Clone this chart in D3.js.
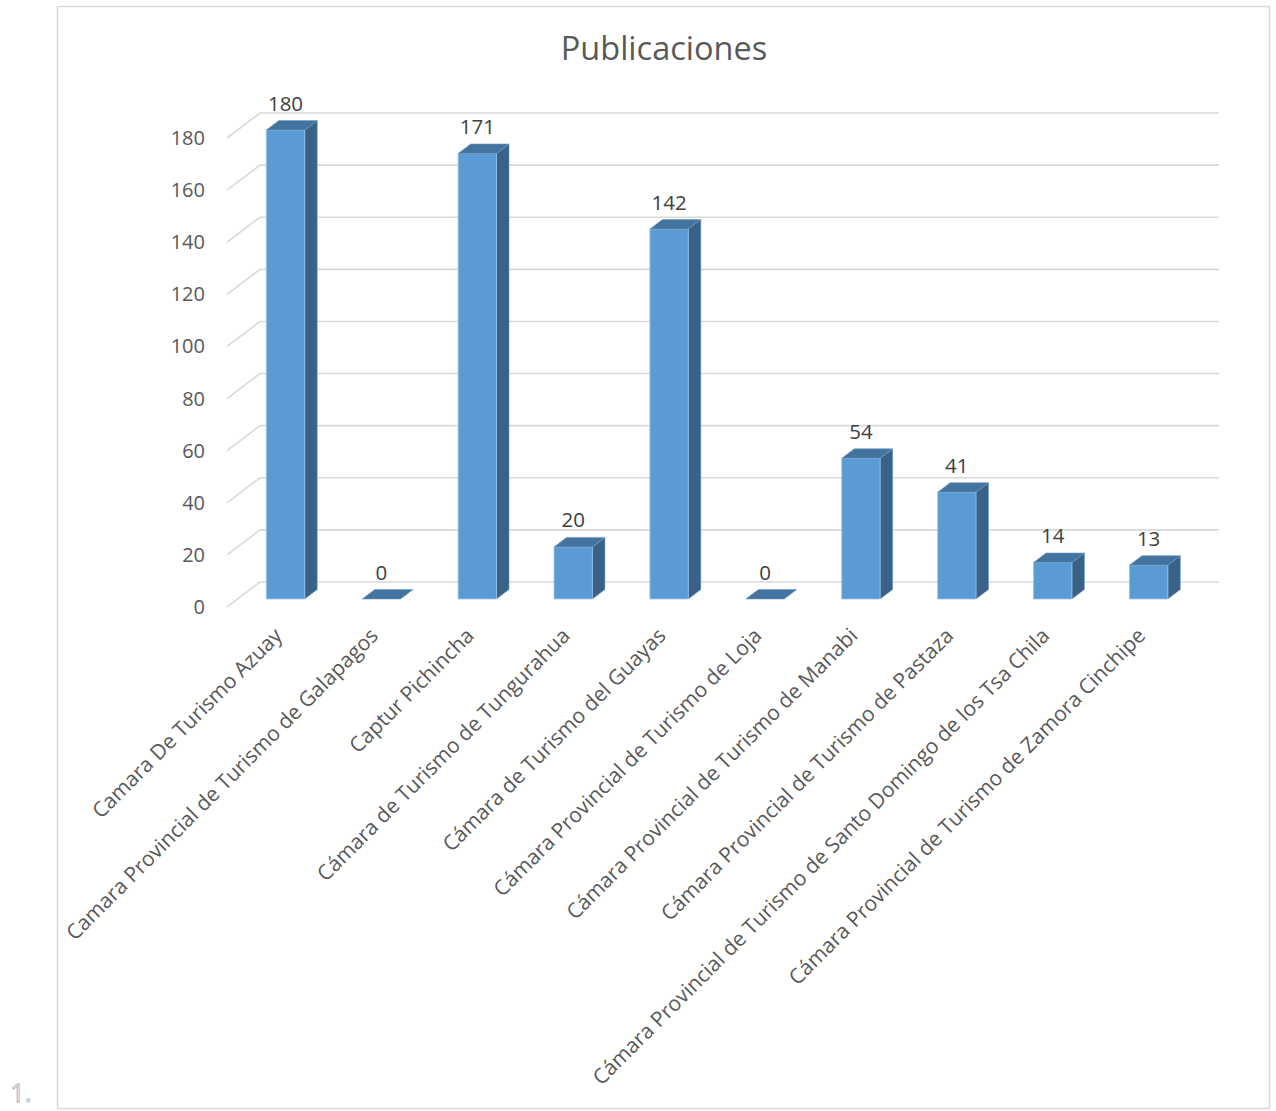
<!DOCTYPE html>
<html>
<head>
<meta charset="utf-8">
<title>Publicaciones</title>
<script src="https://cdn.jsdelivr.net/npm/d3@7/dist/d3.min.js"></script>
<style>
  body { margin: 0; background: #fff; }
  svg text { font-family: "Open Sans", "Liberation Sans", sans-serif; }
</style>
</head>
<body>
<div class="chart"></div>
<script>
// data
var categories = [
  "Camara De Turismo Azuay",
  "Camara Provincial de Turismo de Galapagos",
  "Captur Pichincha",
  "Cámara de Turismo de Tungurahua",
  "Cámara de Turismo del Guayas",
  "Cámara Provincial de Turismo de Loja",
  "Cámara Provincial de Turismo de Manabi",
  "Cámara Provincial de Turismo de Pastaza",
  "Cámara Provincial de Turismo de Santo Domingo de los Tsa Chila",
  "Cámara Provincial de Turismo de Zamora Cinchipe"
];
var publicaciones = [180, 0, 171, 20, 142, 0, 54, 41, 14, 13];
var yTicks = [0, 20, 40, 60, 80, 100, 120, 140, 160, 180];
var title = "Publicaciones";

var width = 1276, height = 1111;

// depth of the 3d box: back wall -> front edge of floor
var depthX = -33, depthY = 25;
var barFront = 0.68, barBack = 0.30;   // fraction of depth

var svg = d3.select(".chart").append("svg")
  .attr("width", width).attr("height", height);

// frame
svg.append("rect")
  .attr("x", 57.5).attr("y", 6.5)
  .attr("width", 1212).attr("height", 1102)
  .attr("fill", "#fff").attr("stroke", "#d9d9d9").attr("stroke-width", 1.5);

svg.append("text")
  .attr("x", 664).attr("y", 60)
  .attr("text-anchor", "middle")
  .attr("font-size", 32.5)
  .attr("fill", "#595959")
  .text(title);

var x = d3.scaleBand().domain(categories).range([260, 1219]).padding(0);
var y = d3.scaleLinear().domain([0, 180]).range([582, 113]);

// back wall gridlines + side wall diagonals
var grid = svg.append("g");
yTicks.forEach(function(t) {
  grid.append("line")
    .attr("x1", 260).attr("x2", 1219)
    .attr("y1", y(t)).attr("y2", y(t))
    .attr("stroke", "#d9d9d9").attr("stroke-width", 1.6);
  grid.append("line")
    .attr("x1", 260 + depthX).attr("y1", y(t) + depthY)
    .attr("x2", 260).attr("y2", y(t))
    .attr("stroke", "#d9d9d9").attr("stroke-width", 1.6);
});

// y axis labels (front edge)
svg.append("g").selectAll("text")
  .data(yTicks).enter().append("text")
  .attr("x", 205)
  .attr("y", function(d) { return y(d) + depthY; })
  .attr("dy", "0.35em")
  .attr("text-anchor", "end")
  .attr("font-size", 20)
  .attr("fill", "#595959")
  .text(function(d) { return d; });

// bars
var bw = x.bandwidth() * 0.4;
function pt(px, py, f) { return [px + depthX * f, py + depthY * f]; }
function poly(pts) { return pts.map(function(p) { return p.join(","); }).join(" "); }

var bars = svg.append("g").selectAll("g")
  .data(categories.map(function(c, i) { return { cat: c, v: publicaciones[i] }; }))
  .enter().append("g");

bars.each(function(d) {
  var g = d3.select(this);
  var cx = x(d.cat) + x.bandwidth() / 2;
  var l = cx - bw / 2, r = cx + bw / 2;
  var yt = y(d.v), yb = y(0);
  // side
  if (d.v > 0) {
    g.append("polygon")
      .attr("points", poly([pt(r, yb, barFront), pt(r, yb, barBack), pt(r, yt, barBack), pt(r, yt, barFront)]))
      .attr("fill", "#386287").attr("stroke", "#6f9bc4").attr("stroke-width", 0.6);
    g.append("polygon")
      .attr("points", poly([pt(l, yb, barFront), pt(r, yb, barFront), pt(r, yt, barFront), pt(l, yt, barFront)]))
      .attr("fill", "#5b9bd5").attr("stroke", "#9cc3e8").attr("stroke-width", 0.8);
  }
  // top
  g.append("polygon")
    .attr("points", poly([pt(l, yt, barFront), pt(r, yt, barFront), pt(r, yt, barBack), pt(l, yt, barBack)]))
    .attr("fill", "#43739f").attr("stroke", "#6f9bc4").attr("stroke-width", 0.6);
  // value label
  g.append("text")
    .attr("x", cx + depthX * barFront)
    .attr("y", yt + depthY * barBack - 10)
    .attr("text-anchor", "middle")
    .attr("font-size", 20.5)
    .attr("fill", "#404040")
    .text(d.v);
});

// category labels
svg.append("g").selectAll("text")
  .data(categories).enter().append("text")
  .attr("transform", function(d) {
    var cx = x(d) + x.bandwidth() / 2 + depthX * barFront;
    return "translate(" + (cx - 2) + "," + (582 + depthY + 30) + ") rotate(-45)";
  })
  .attr("text-anchor", "end")
  .attr("font-size", 21)
  .attr("fill", "#595959")
  .text(function(d) { return d; });

// list number left over from the document
svg.append("text")
  .attr("x", 10).attr("y", 1102)
  .attr("font-size", 26)
  .attr("fill", "#e6f0fa").attr("stroke", "#9fb4c8").attr("stroke-width", 0.8)
  .text("1.");
</script>
</body>
</html>
